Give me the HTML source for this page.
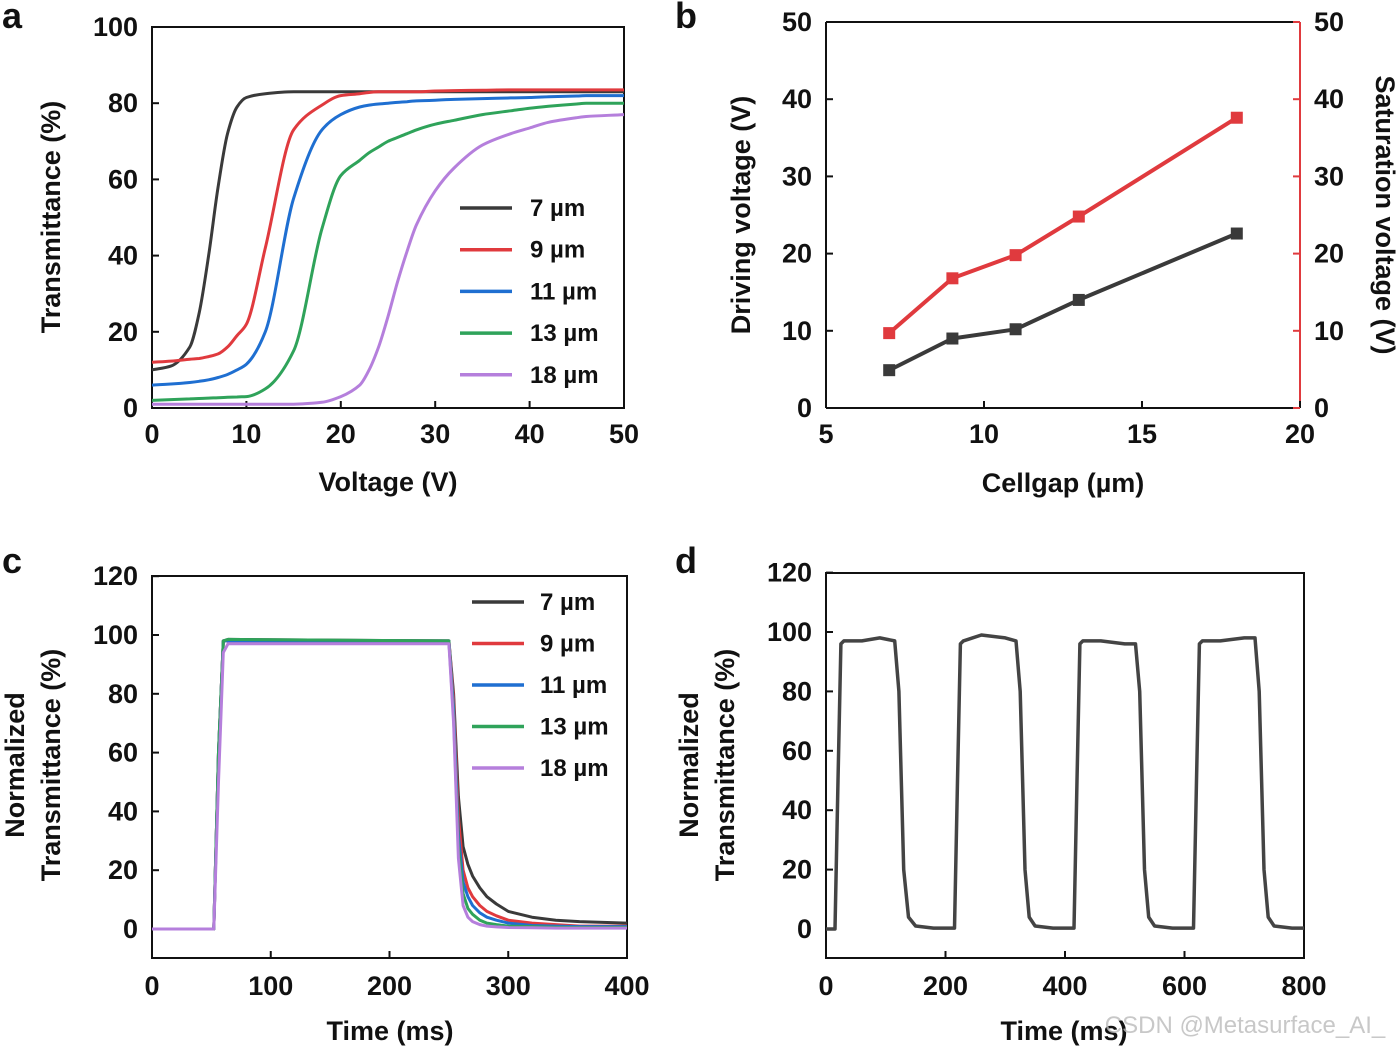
<!DOCTYPE html>
<html><head><meta charset="utf-8"><style>
body{margin:0;background:#fff}
svg{display:block;font-family:"Liberation Sans",Arial,sans-serif;font-weight:bold}
</style></head><body>
<svg id="s" width="1398" height="1048" viewBox="0 0 1398 1048"></svg>
<script>
// Panel a data
const aV = [0,2,4,5,6,7,8,9,10,12,15,18,20,22,23,24,25,26,27,28,30,32,35,38,40,42,45,46,50];
const aLabels = ["7 µm","9 µm","11 µm","13 µm","18 µm"];
const aColors = ["#3a3a3a","#e03a3e","#1f6fd1","#2fa35a","#b57fdc"];
const aT7  = [10,11,16,25,40,58,72,79,81.5,82.5,83,83,83,83,83,83,83,83,83,83,83,83,83,83,83,83,83,83,83];
const aT9  = [12,12.3,12.8,13,13.5,14.2,16,19,22,42,73,79.5,82,82.5,82.8,83,83,83,83,83,83.2,83.3,83.4,83.5,83.5,83.5,83.5,83.5,83.5];
const aT11 = [6,6.3,6.7,7,7.4,8,8.8,10,11.5,20,55,73,77,79,79.5,79.8,80,80.2,80.4,80.6,80.8,81,81.2,81.4,81.5,81.7,81.9,82,82];
const aT13 = [2,2.2,2.4,2.5,2.6,2.7,2.8,2.9,3,5,15,47,61,65,67,68.5,70,71,72,73,74.5,75.5,77,78,78.7,79.2,79.8,80,80];
const aT18 = [1,1,1,1,1,1,1,1,1,1,1,1.5,3,6,10,16,24,33,41,48,57,63,69,72,73.5,75,76.2,76.5,77];
// Panel b data
const bCell = [7,9,11,13,18];
const bDrive = [4.9,9,10.2,14,22.6];
const bSat = [9.7,16.8,19.8,24.8,37.6];
// Panel c data
const cT = [0,50,52,56,60,64,250,254,258,262,266,270,276,282,290,300,320,340,360,400];
const c7  = [0,0,0,60,98,98.5,98,80,45,28,22,18,14,11,8.5,6,4,3,2.5,2];
const c9  = [0,0,0,60,98,98,98,78,38,20,14,11,8,6,4.5,3,2,1.5,1,1];
const c11 = [0,0,0,60,98,98,98,75,32,16,11,8,5.5,4,3,2,1.2,1,0.8,0.8];
const c13 = [0,0,0,60,98,98.5,98,72,28,12,7,5,3,2,1.5,1,0.8,0.6,0.5,0.5];
const c18 = [0,0,0,50,94,97,97,70,24,8,4,2.5,1.5,1,0.7,0.5,0.4,0.3,0.3,0.3];
// Panel d data
const dT = [0,15,20,25,30,60,90,115,122,130,138,150,180,215,220,225,230,260,300,318,325,333,340,350,380,415,420,425,430,460,500,518,525,533,540,550,580,615,620,625,630,660,700,718,725,733,740,750,780,800];
const dY = [0,0,50,96,97,97,98,97,80,20,4,1,0.3,0.3,50,96,97,99,98,97,80,20,4,1,0.3,0.3,50,96,97,97,96,96,80,20,4,1,0.3,0.3,50,96,97,97,98,98,80,20,4,1,0.3,0.3];

const NS="http://www.w3.org/2000/svg", S=document.getElementById('s');
function el(t,a,p){const e=document.createElementNS(NS,t);for(const k in a)e.setAttribute(k,a[k]);(p||S).appendChild(e);return e;}
function txt(x,y,s,o){const e=el('text',Object.assign({x:x,y:y,'font-size':27,'text-anchor':'middle',fill:'#111'},o||{}));e.textContent=s;return e;}
function line(xs,ys,fx,fy,col,w){let d='';for(let i=0;i<xs.length;i++)d+=(i?'L':'M')+fx(xs[i]).toFixed(1)+','+fy(ys[i]).toFixed(1);return el('path',{d:d,fill:'none',stroke:col,'stroke-width':w||3.5,'stroke-linejoin':'round'});}
// monotone cubic smoothing (Fritsch-Carlson)
function smooth(xs,ys,fx,fy,col,w){const n=xs.length,d=[],m=[];
 for(let i=0;i<n-1;i++)d.push((ys[i+1]-ys[i])/(xs[i+1]-xs[i]));
 m[0]=d[0];m[n-1]=d[n-2];
 for(let i=1;i<n-1;i++)m[i]=(d[i-1]*d[i]<=0)?0:2/(1/d[i-1]+1/d[i]);
 let p='M'+fx(xs[0]).toFixed(1)+','+fy(ys[0]).toFixed(1);
 for(let i=0;i<n-1;i++){const h=xs[i+1]-xs[i];
  p+='C'+fx(xs[i]+h/3).toFixed(1)+','+fy(ys[i]+m[i]*h/3).toFixed(1)+' '+fx(xs[i+1]-h/3).toFixed(1)+','+fy(ys[i+1]-m[i+1]*h/3).toFixed(1)+' '+fx(xs[i+1]).toFixed(1)+','+fy(ys[i+1]).toFixed(1);}
 return el('path',{d:p,fill:'none',stroke:col,'stroke-width':w||3.5,'stroke-linejoin':'round'});}
function frame(x0,y0,x1,y1,name){const r=el('rect',{x:x0,y:y0,width:x1-x0,height:y1-y0,fill:'none',stroke:'#111','stroke-width':2});}

// ---- Panel a
{const fx=v=>152+v*9.44, fy=t=>408-t*3.81;
frame(152,27,624,408,'plot-a-frame');
[0,10,20,30,40,50].forEach(v=>{el('line',{x1:fx(v),y1:408,x2:fx(v),y2:401,stroke:'#111','stroke-width':2});txt(fx(v),443,v);});
[0,20,40,60,80,100].forEach(v=>{el('line',{x1:152,y1:fy(v),x2:159,y2:fy(v),stroke:'#111','stroke-width':2});txt(138,fy(v)+9,v,{'text-anchor':'end'});});
txt(388,491,'Voltage (V)');
const yt=txt(0,0,'Transmittance (%)',{transform:'translate(60,217) rotate(-90)'});
[aT7,aT9,aT11,aT13,aT18].forEach((s,i)=>{const p=smooth(aV,s,fx,fy,aColors[i],3);
 const ly=208+i*41.7;el('line',{x1:460,y1:ly,x2:512,y2:ly,stroke:aColors[i],'stroke-width':3.5});const t=txt(530,ly+8,aLabels[i],{'text-anchor':'start','font-size':24});});
txt(12,28,'a',{'font-size':36});}

// ---- Panel b
{const fx=v=>826+(v-5)*31.6, fy=t=>408-t*7.72;
el('line',{x1:826,y1:22,x2:826,y2:408,stroke:'#111','stroke-width':2});
el('line',{x1:826,y1:408,x2:1300,y2:408,stroke:'#111','stroke-width':2});
el('line',{x1:826,y1:22,x2:1300,y2:22,stroke:'#111','stroke-width':2});
el('line',{x1:1300,y1:22,x2:1300,y2:408,stroke:'#e03a3e','stroke-width':2});
[5,10,15,20].forEach(v=>{el('line',{x1:fx(v),y1:408,x2:fx(v),y2:401,stroke:'#111','stroke-width':2});txt(fx(v),443,v);});
[0,10,20,30,40,50].forEach(v=>{el('line',{x1:826,y1:fy(v),x2:833,y2:fy(v),stroke:'#111','stroke-width':2});txt(812,fy(v)+9,v,{'text-anchor':'end'});
 el('line',{x1:1293,y1:fy(v),x2:1300,y2:fy(v),stroke:'#e03a3e','stroke-width':2});txt(1314,fy(v)+9,v,{'text-anchor':'start'});});
txt(1063,492,'Cellgap (µm)');
txt(0,0,'Driving voltage (V)',{transform:'translate(750,215) rotate(-90)'});
txt(0,0,'Saturation voltage (V)',{transform:'translate(1376,215) rotate(90)'});
line(bCell,bDrive,fx,fy,'#3a3a3a',4);line(bCell,bSat,fx,fy,'#e03a3e',4);
bCell.forEach((c,i)=>{const r=el('rect',{x:fx(c)-6,y:fy(bDrive[i])-6,width:12,height:12,fill:'#3a3a3a'});
 const q=el('rect',{x:fx(c)-6,y:fy(bSat[i])-6,width:12,height:12,fill:'#e03a3e'});});
txt(686,28,'b',{'font-size':36});}

// ---- Panel c
{const fx=v=>152+v*1.1875, fy=t=>929-t*2.94;
frame(152,576,627,958,'plot-c-frame');
[0,100,200,300,400].forEach(v=>{el('line',{x1:fx(v),y1:958,x2:fx(v),y2:951,stroke:'#111','stroke-width':2});txt(fx(v),995,v);});
[0,20,40,60,80,100,120].forEach(v=>{el('line',{x1:152,y1:fy(v),x2:159,y2:fy(v),stroke:'#111','stroke-width':2});txt(138,fy(v)+9,v,{'text-anchor':'end'});});
txt(390,1040,'Time (ms)');
txt(0,0,'Normalized',{transform:'translate(24,765) rotate(-90)'});
txt(0,0,'Transmittance (%)',{transform:'translate(60,765) rotate(-90)'});
[c7,c9,c11,c13,c18].forEach((s,i)=>{const p=line(cT,s,fx,fy,aColors[i],3);
 const ly=602+i*41.5;el('line',{x1:472,y1:ly,x2:524,y2:ly,stroke:aColors[i],'stroke-width':3.5});txt(540,ly+8,aLabels[i],{'text-anchor':'start','font-size':24});});
txt(12,573,'c',{'font-size':36});}

// ---- Panel d
{const fx=v=>826+v*0.5975, fy=t=>929-t*2.97;
frame(826,573,1304,958,'plot-d-frame');
[0,200,400,600,800].forEach(v=>{el('line',{x1:fx(v),y1:958,x2:fx(v),y2:951,stroke:'#111','stroke-width':2});txt(fx(v),995,v);});
[0,20,40,60,80,100,120].forEach(v=>{el('line',{x1:826,y1:fy(v),x2:833,y2:fy(v),stroke:'#111','stroke-width':2});txt(812,fy(v)+9,v,{'text-anchor':'end'});});
txt(1064,1040,'Time (ms)');
txt(0,0,'Normalized',{transform:'translate(698,765) rotate(-90)'});
txt(0,0,'Transmittance (%)',{transform:'translate(734,765) rotate(-90)'});
const p=line(dT,dY,fx,fy,'#444',3.5);
txt(686,573,'d',{'font-size':36});}
txt(1245,1033,'CSDN @Metasurface_AI_',{fill:'#bbb','font-weight':'normal','font-size':24,opacity:0.8});
</script></body></html>
